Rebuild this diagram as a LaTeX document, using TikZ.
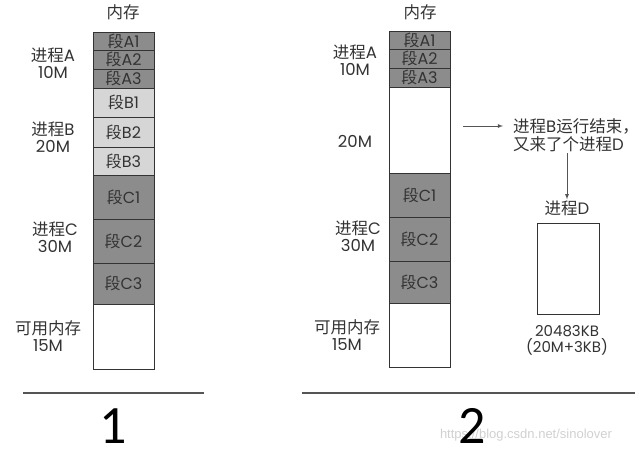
\documentclass[tikz,border=0pt]{standalone}
\usepackage{fontspec}
\setmainfont{Poppins}
\newfontfamily\zh{Noto Sans CJK SC}
\newfontfamily\bignum{Carlito}
\newfontfamily\wmfont{Liberation Sans}
\usetikzlibrary{calc}
\definecolor{segdark}{HTML}{8C8C8C}
\definecolor{seglight}{HTML}{D6D6D6}
\definecolor{ink}{HTML}{333333}
\definecolor{rule}{HTML}{555555}
\tikzset{
  seg/.style={draw=ink, line width=0.8pt, minimum width=61, inner sep=0pt,
    font=\fontsize{16}{16}\selectfont, text=ink},
  lbl/.style={align=center, inner sep=1pt, text=ink,
    font=\fontsize{16.5}{17}\selectfont},
  arr/.style={->, >=latex, draw=rule, line width=0.8pt},
  bignumber/.style={text=black, inner sep=0pt, anchor=base,
    font=\bignum\fontsize{54}{54}\selectfont},
}
\begin{document}
\begin{tikzpicture}[x=1pt,y=-1pt]
\useasboundingbox (0,0) rectangle (640,453);
% left: memory before
\node[lbl] (memL) at (123,12) {\zh 内存};
\node[seg, fill=segdark, minimum height=18] (lA1) at (123.5,41) {{\zh 段}A1};
\node[seg, fill=segdark, minimum height=19] (lA2) at (123.5,59.5) {{\zh 段}A2};
\node[seg, fill=segdark, minimum height=19] (lA3) at (123.5,78.5) {{\zh 段}A3};
\node[seg, fill=seglight, minimum height=29] (lB1) at (123.5,102.5) {{\zh 段}B1};
\node[seg, fill=seglight, minimum height=30] (lB2) at (123.5,132) {{\zh 段}B2};
\node[seg, fill=seglight, minimum height=28] (lB3) at (123.5,161) {{\zh 段}B3};
\node[seg, fill=segdark, minimum height=44] (lC1) at (123.5,197) {{\zh 段}C1};
\node[seg, fill=segdark, minimum height=44] (lC2) at (123.5,241) {{\zh 段}C2};
\node[seg, fill=segdark, minimum height=41] (lC3) at (123.5,283.5) {{\zh 段}C3};
\node[seg, fill=white, minimum height=65] (lfree) at (123.5,336.5) {};
\node[lbl] (pAL) at (53,63) {{\zh 进程}A\\10M};
\node[lbl] (pBL) at (53,137) {{\zh 进程}B\\20M};
\node[lbl] (pCL) at (55,237) {{\zh 进程}C\\30M};
\node[lbl] (freeL) at (48,336) {{\zh 可用内存}\\15M};
% right: memory after
\node[lbl] (memR) at (420,12) {\zh 内存};
\node[seg, fill=segdark, minimum height=18] (rA1) at (419.5,40) {{\zh 段}A1};
\node[seg, fill=segdark, minimum height=19] (rA2) at (419.5,58.5) {{\zh 段}A2};
\node[seg, fill=segdark, minimum height=19] (rA3) at (419.5,77.5) {{\zh 段}A3};
\node[seg, fill=white, minimum height=86] (rgap) at (419.5,130) {};
\node[seg, fill=segdark, minimum height=44] (rC1) at (419.5,195) {{\zh 段}C1};
\node[seg, fill=segdark, minimum height=44] (rC2) at (419.5,239) {{\zh 段}C2};
\node[seg, fill=segdark, minimum height=42] (rC3) at (419.5,282) {{\zh 段}C3};
\node[seg, fill=white, minimum height=64] (rfree) at (419.5,335) {};
\node[lbl] (pAR) at (355,60) {{\zh 进程}A\\10M};
\node[lbl] (gapR) at (355,141) {20M};
\node[lbl] (pCR) at (358,236) {{\zh 进程}C\\30M};
\node[lbl] (freeR) at (347,335) {{\zh 可用内存}\\15M};
% process D
\node[lbl, align=left, anchor=west, font=\fontsize{16.5}{18.5}\selectfont] (msg) at (512,135) {{\zh 进程}B{\zh 运行结束，}\\{\zh 又来了个进程}D};
\coordinate (b1) at (463,126);
\draw[arr, shorten >=9pt] (b1) -- (b1 -| msg.west);
\node[lbl] (pD) at (567,208) {{\zh 进程}D};
\draw[arr] (pD.north |- msg.south) -- (pD.north);
\node[seg, fill=white, minimum width=62, minimum height=91] (boxD) at (568,268.5) {};
\node[lbl, font=\fontsize{15}{16}\selectfont] (sizeD) at (567,340) {20483KB\\(20M+3KB)};
% captions
\draw[draw=rule, line width=1.5pt] (23,393) -- (204,393);
\draw[draw=rule, line width=1.5pt] (302,393) -- (635,393);
\node[bignumber] (n1) at (113,443) {1};
\node[text=black!5!gray!35, font=\wmfont\fontsize{13}{13}\selectfont] (wm) at (526,435) {https://blog.csdn.net/sinolover};
\node[bignumber] (n2) at (472,443) {2};
\end{tikzpicture}
\end{document}
